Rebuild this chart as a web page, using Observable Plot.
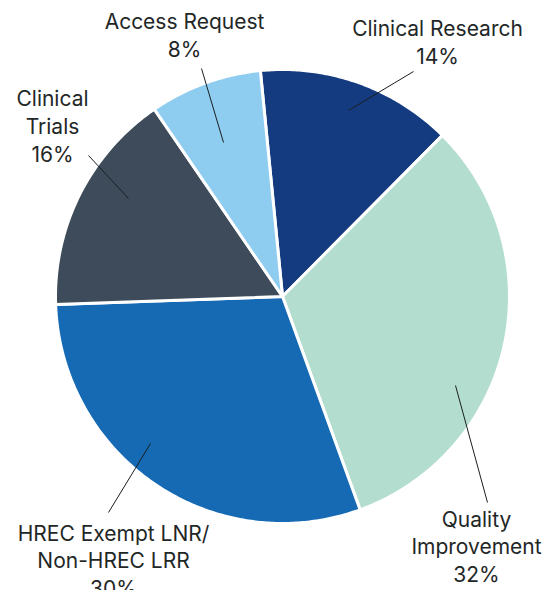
<!DOCTYPE html>
<html>
<head>
<meta charset="utf-8">
<script src="https://cdn.jsdelivr.net/npm/d3@7"></script>
<script src="https://cdn.jsdelivr.net/npm/@observablehq/plot@0.6"></script>
<style>
  html, body { margin: 0; padding: 0; background: #ffffff; }
  #chart { width: 558px; height: 590px; overflow: hidden; }
</style>
</head>
<body>
<div id="chart"></div>
<script>
// ---- data ----
const categories = ["Clinical Research", "Quality Improvement", "HREC Exempt LNR/Non-HREC LRR", "Clinical Trials", "Access Request"];
const values = [14, 32, 30, 16, 8];
const labelNames = ["Clinical Research", "Quality\nImprovement", "HREC Exempt LNR/\nNon-HREC LRR", "Clinical\nTrials", "Access Request"];

// ---- styles / layout (kept separate from data) ----
const colors = ["#143a80", "#b3decf", "#166ab4", "#3d4b5b", "#8fcdf0"];
const W = 558, H = 590;
const cx = 282, cy = 296, R = 227;
const startDeg = -5.6;
// label block centres (pixels) and leader line ends (pixels)
const labelPos = [[437, 41], [476, 545], [113, 559], [52, 124.5], [184, 33.5]];
const leaderOuter = [[413, 71], [487, 502], [108, 512], [88, 155], [201, 68]];
const leaderInner = [[348, 110], [455, 385], [150, 443], [128, 198], [223, 142]];

const pie = d3.pie().sort(null).value(d => d.value)
  .startAngle(startDeg * Math.PI / 180)
  .endAngle(startDeg * Math.PI / 180 + 2 * Math.PI);
const rows = categories.map((c, i) => ({name: c, value: values[i]}));
const arcs = pie(rows);

const pts = [];
arcs.forEach(a => {
  pts.push({name: a.data.name, x: cx, y: cy});
  const n = Math.max(2, Math.ceil((a.endAngle - a.startAngle) / 0.01));
  for (let k = 0; k <= n; k++) {
    const t = a.startAngle + (a.endAngle - a.startAngle) * k / n;
    pts.push({name: a.data.name, x: cx + R * Math.sin(t), y: cy - R * Math.cos(t)});
  }
});

const labels = categories.map((c, i) => ({
  text: `${labelNames[i]}\n${values[i]}%`, x: labelPos[i][0], y: labelPos[i][1]
}));
const leaders = categories.map((c, i) => ({
  x1: leaderOuter[i][0], y1: leaderOuter[i][1], x2: leaderInner[i][0], y2: leaderInner[i][1]
}));

const chart = Plot.plot({
  width: W, height: H,
  margin: 0,
  style: {background: "#ffffff", fontFamily: "Inter, sans-serif"},
  x: {domain: [0, W], range: [0, W], axis: null},
  y: {domain: [0, H], range: [0, H], axis: null},
  color: {domain: categories, range: colors},
  marks: [
    Plot.line(pts, {x: "x", y: "y", z: "name", fill: "name", stroke: "#ffffff", strokeWidth: 3, strokeLinejoin: "round", curve: "linear-closed"}),
    Plot.link(leaders, {x1: "x1", y1: "y1", x2: "x2", y2: "y2", stroke: "#1b1f1f", strokeWidth: 1}),
    Plot.text(labels, {x: "x", y: "y", text: "text", fontSize: 21, fontWeight: 400, lineHeight: 1.33, fill: "#1f2727", textAnchor: "middle", lineAnchor: "middle"})
  ]
});
document.getElementById("chart").appendChild(chart);
</script>
</body>
</html>
